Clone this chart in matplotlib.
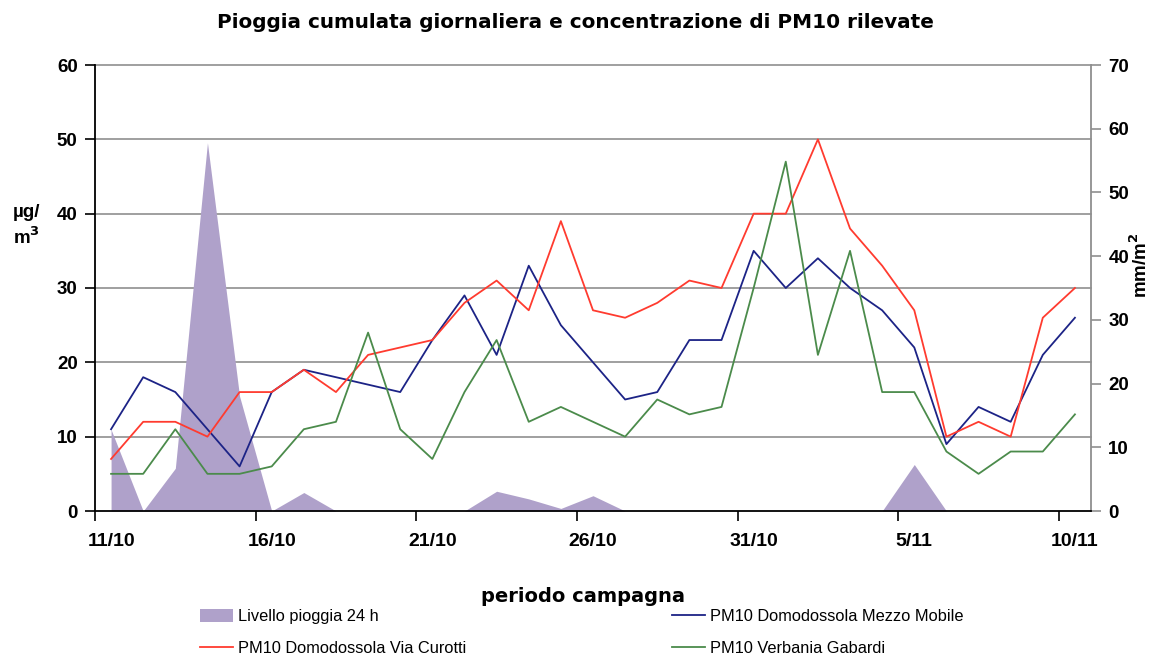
import matplotlib
matplotlib.use("Agg")
import matplotlib.pyplot as plt
from matplotlib.transforms import blended_transform_factory
from matplotlib.patches import Patch
from matplotlib.lines import Line2D

# ---------------- data ----------------
dates = ["11/10", "12/10", "13/10", "14/10", "15/10", "16/10", "17/10", "18/10",
         "19/10", "20/10", "21/10", "22/10", "23/10", "24/10", "25/10", "26/10",
         "27/10", "28/10", "29/10", "30/10", "31/10", "1/11", "2/11", "3/11",
         "4/11", "5/11", "6/11", "7/11", "8/11", "9/11", "10/11"]
rain = [12.8, 0, 6.7, 57.8, 18, 0, 2.9, 0, 0, 0, 0, 0, 3.1, 1.9, 0.4, 2.4,
        0, 0, 0, 0, 0, 0, 0, 0, 0, 7.3, 0, 0, 0, 0, 0]
pm_mezzo = [11, 18, 16, 11, 6, 16, 19, 18, 17, 16, 23, 29, 21, 33, 25, 20,
            15, 16, 23, 23, 35, 30, 34, 30, 27, 22, 9, 14, 12, 21, 26]
pm_curotti = [7, 12, 12, 10, 16, 16, 19, 16, 21, 22, 23, 28, 31, 27, 39, 27,
              26, 28, 31, 30, 40, 40, 50, 38, 33, 27, 10, 12, 10, 26, 30]
pm_verbania = [5, 5, 11, 5, 5, 6, 11, 12, 24, 11, 7, 16, 23, 12, 14, 12,
               10, 15, 13, 14, 30, 47, 21, 35, 16, 16, 8, 5, 8, 8, 13]
left_ticks = [0, 10, 20, 30, 40, 50, 60]
right_ticks = [0, 10, 20, 30, 40, 50, 60, 70]

labels = {
    "rain": "Livello pioggia 24 h",
    "mezzo": "PM10 Domodossola Mezzo Mobile",
    "curotti": "PM10 Domodossola Via Curotti",
    "verbania": "PM10 Verbania Gabardi",
}

# ---------------- style ----------------
C_RAIN = "#afa1ca"
C_BLUE = "#1c2386"
C_RED = "#ff3b2f"
C_GREEN = "#4b8b4b"
C_GRID = "#8f8f8f"

plt.rcParams['font.family'] = ['Liberation Sans', 'DejaVu Sans']
plt.rcParams['mathtext.default'] = 'bf'

W, H = 1159, 659
fig = plt.figure(figsize=(W / 100, H / 100), dpi=100)
ax = fig.add_axes([95 / W, 1 - 511 / H, (1091 - 95) / W, (511 - 65) / H])
ax2 = ax.twinx()
ax.set_zorder(ax2.get_zorder() + 1)
ax.patch.set_visible(False)

x = list(range(len(dates)))

# rain area on secondary axis
ax2.fill_between(x, 0, rain, color=C_RAIN, lw=0, zorder=2)
ax2.set_ylim(0, 70)
ax2.set_yticks(right_ticks)

# gridlines (left-axis values) drawn behind the area
tr = blended_transform_factory(ax2.transAxes, ax.transData)
for v in left_ticks[1:]:
    ax2.plot([0, 1], [v, v], transform=tr, color=C_GRID, lw=1.2, zorder=1,
             clip_on=False)

# PM10 lines on primary axis
ax.plot(x, pm_mezzo, color=C_BLUE, lw=1.3, zorder=3)
ax.plot(x, pm_curotti, color=C_RED, lw=1.3, zorder=3)
ax.plot(x, pm_verbania, color=C_GREEN, lw=1.3, zorder=3)

ax.set_ylim(0, 60)
ax.set_xlim(-0.5, len(dates) - 0.5)
ax2.set_xlim(-0.5, len(dates) - 0.5)
ax.set_yticks(left_ticks)

# x ticks: labels every 5 categories, tick marks on category boundaries
ax.set_xticks(x[::5])
ax.set_xticklabels(dates[::5], fontsize=14, fontweight='bold')
ax.set_xticks([i - 0.5 for i in x[::5]], minor=True)
ax.tick_params(axis='x', which='major', length=0, pad=16)
ax.tick_params(axis='x', which='minor', length=7, width=1.2, color='black',
               direction='out')

ax.tick_params(axis='y', which='major', length=7, width=1.2, color='black',
               direction='out', pad=5.5, labelsize=13.5)
for t in ax.get_yticklabels():
    t.set_fontweight('bold')
ax2.tick_params(axis='y', which='major', length=7, width=1.2, color=C_GRID,
                direction='out', pad=5.5, labelsize=13.5)
for t in ax2.get_yticklabels():
    t.set_fontweight('bold')

# spines
for s in ['top', 'right']:
    ax.spines[s].set_visible(False)
for s in ['top', 'left', 'bottom']:
    ax2.spines[s].set_visible(False)
ax.spines['left'].set_color('black')
ax.spines['left'].set_linewidth(1.3)
ax.spines['bottom'].set_color('black')
ax.spines['bottom'].set_linewidth(1.3)
ax2.spines['right'].set_color(C_GRID)
ax2.spines['right'].set_linewidth(1.3)

# titles / labels
fig.text(575 / W, 1 - 22 / H,
         "Pioggia cumulata giornaliera e concentrazione di PM10 rilevate",
         ha='center', va='center', fontsize=14.4, fontweight='bold',
         family=['DejaVu Sans'])
fig.text(583 / W, 1 - 597 / H, "periodo campagna", ha='center', va='center',
         fontsize=14, fontweight='bold', family=['DejaVu Sans'])
fig.text(13 / W, 1 - 226 / H, "µg/\nm$^{3}$", ha='left', va='center',
         fontsize=13.5, fontweight='bold', linespacing=1.3)
fig.text(1140 / W, 1 - 265 / H, "mm/m$^{2}$", ha='center', va='center',
         rotation=90, fontsize=13.5, fontweight='bold')

# legend
handles = [Patch(facecolor=C_RAIN, edgecolor='none'),
           Line2D([], [], color=C_RED, lw=1.3),
           Line2D([], [], color=C_BLUE, lw=1.3),
           Line2D([], [], color=C_GREEN, lw=1.3)]
labs = [labels["rain"], labels["curotti"], labels["mezzo"], labels["verbania"]]
fig.legend(handles, labs, ncol=2, loc='upper left',
           bbox_to_anchor=(200 / W, 1 - 609 / H), frameon=False,
           fontsize=11.8, handlelength=2.0, handleheight=0.8,
           handletextpad=0.3, columnspacing=12.6, labelspacing=1.03,
           borderpad=0, borderaxespad=0)

fig.savefig("out.png", dpi=100)
